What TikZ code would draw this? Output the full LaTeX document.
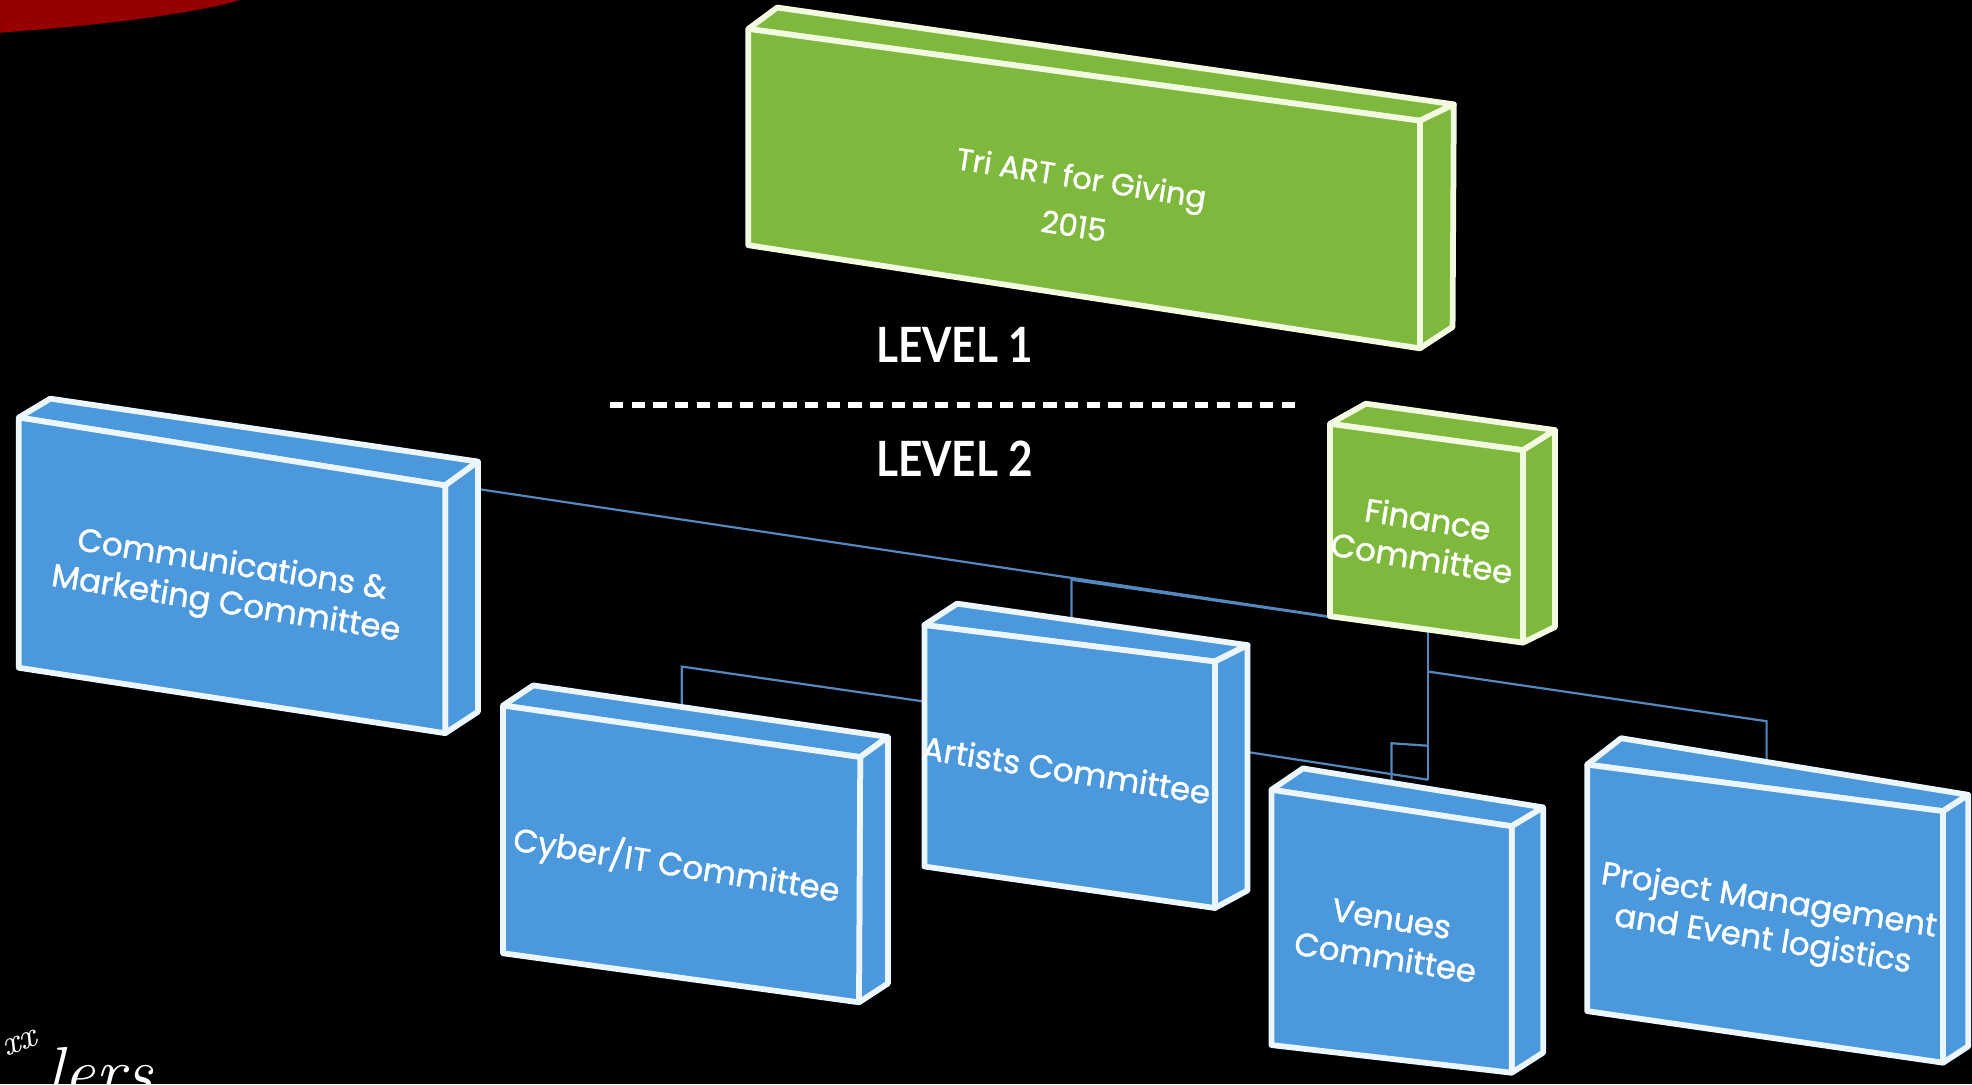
\documentclass[tikz,border=0pt]{standalone}
\usepackage{fontspec}
\setmainfont{Poppins}
\newfontfamily\boxfont{Poppins}[FakeBold=1.2]
\newfontfamily\lvlfont{Lato}
\newfontfamily\sigfont{Latin Modern Roman}
\definecolor{boxblue}{RGB}{76,152,220}
\definecolor{boxgreen}{RGB}{126,184,60}
\definecolor{edgeblue}{RGB}{236,246,255}
\definecolor{edgegreen}{RGB}{242,250,224}
\definecolor{linkblue}{RGB}{84,135,190}
\definecolor{swoosh}{RGB}{150,0,0}
\newcommand{\drawslab}[9]{%
  \coordinate (#1-ftl) at (#3); \coordinate (#1-ftr) at (#4);
  \coordinate (#1-fbr) at (#5); \coordinate (#1-fbl) at (#6);
  \coordinate (#1-btl) at (#7); \coordinate (#1-btr) at (#8);
  \coordinate (#1-bbr) at (#9);
  \path[#2] (#1-ftl) -- (#1-btl) -- (#1-btr) -- (#1-ftr) -- cycle;
  \path[#2] (#1-ftr) -- (#1-btr) -- (#1-bbr) -- (#1-fbr) -- cycle;
  \path[#2] (#1-ftl) -- (#1-ftr) -- (#1-fbr) -- (#1-fbl) -- cycle;
}
\begin{document}
\begin{tikzpicture}[x=0.01cm,y=-0.01cm,
  bluebox/.style={fill=boxblue,draw=edgeblue,line width=1.3pt,line join=round},
  greenbox/.style={fill=boxgreen,draw=edgegreen,line width=1.3pt,line join=round},
  link/.style={draw=linkblue,line width=0.5pt},
  boxtext/.style={text=white,font=\boxfont\fontsize{7.3}{8.9}\selectfont,align=center,rotate=-9,inner sep=0pt},
  toptext/.style={boxtext,font=\boxfont\fontsize{6.9}{11}\selectfont},
  leveltext/.style={text=white,font=\lvlfont\bfseries\fontsize{11}{13}\selectfont,inner sep=0pt},
  levelrule/.style={draw=white,line width=1.5pt,dash pattern=on 3pt off 1.9pt},
  sigtext/.style={text=white,inner sep=0pt}]
\fill[black] (0,0) rectangle (1568,862);
\useasboundingbox (0,0) rectangle (1568,862);
% red swoosh
\fill[swoosh] (0,0) -- (191,0) .. controls (150,12) and (70,21) .. (0,26) -- cycle;
% signature fragment
\begin{scope}
\clip (0,0) rectangle (1568,862);
\node[sigtext,font=\sigfont\itshape\fontsize{8}{9}\selectfont,rotate=20] (sigx) at (16,830) {xx};
\node[sigtext,font=\sigfont\itshape\fontsize{16}{17}\selectfont,anchor=base west] (sigw) at (36,872) {lers};
\end{scope}
% level labels
\node[leveltext] (lv1) at (759,274) {\scalebox{0.87}[1]{LEVEL 1}};
\node[leveltext] (lv2) at (759,365) {\scalebox{0.87}[1]{LEVEL 2}};
\coordinate (ruleL) at (485,322);
\coordinate (ruleR) at (1035,322);
\draw[levelrule] (ruleL) -- (ruleR);
% connector points
\coordinate (commOut) at (381,389);
\coordinate (trunkTop) at (1135.5,502);
\coordinate (trunkBot) at (1135.5,620);
\coordinate (artTopIn) at (852,494);
\coordinate (artTopBend) at (852,461);
\coordinate (pmFork) at (1135.5,534);
\coordinate (pmBend) at (1404.7,573.5);
\coordinate (pmIn) at (1404.7,606);
\coordinate (venFork) at (1135.5,593);
\coordinate (venBend) at (1106.5,591);
\coordinate (venIn) at (1106.5,623);
\coordinate (artRight) at (992,598);
\coordinate (cybIn) at (542,563);
\coordinate (cybBend) at (542,530);
\coordinate (artLeft) at (736,558);
% connectors
\draw[link] (commOut) -- (trunkTop);
\draw[link] (artTopIn) -- (artTopBend) -- (trunkTop);
\draw[link] (trunkTop) -- (trunkBot);
\draw[link] (pmFork) -- (pmBend) -- (pmIn);
\draw[link] (venFork) -- (venBend) -- (venIn);
\draw[link] (artRight) -- (trunkBot);
\draw[link] (cybIn) -- (cybBend) -- (artLeft);
% boxes
\drawslab{top}{greenbox}{595,23}{1129,96}{1129,277}{595,195}{618,6}{1156,83}{1155,260}
\drawslab{comm}{bluebox}{15,332}{354,386}{354,583}{15,531}{40,317}{380,367}{380,566}
\drawslab{cyb}{bluebox}{400,561}{684,602}{683,797}{400,758}{424,545}{706,586}{706,782}
\drawslab{art}{bluebox}{735,497}{966,526}{966,722}{735,689}{761,480}{992,513}{992,708}
\drawslab{ven}{bluebox}{1011,628}{1202,657}{1202,853}{1011,831}{1036,611}{1227,642}{1227,837}
\drawslab{pm}{bluebox}{1262,608}{1545,645}{1545,845}{1262,804}{1289,587}{1565,632}{1565,832}
\drawslab{fin}{greenbox}{1057.5,337}{1211,358}{1211,511}{1057.5,490}{1086,321}{1236.5,342}{1236.5,498.5}
% box texts
\node[toptext] (tTop) at (857,160) {Tri ART for Giving\\2015};
\node[boxtext] (tComm) at (182,466) {Communications \&\\Marketing Committee};
\node[boxtext] (tCyb) at (538,688) {Cyber/IT Committee};
\node[boxtext] (tArt) at (848,612) {Artists Committee};
\node[boxtext] (tVen) at (1104,746) {Venues\\Committee};
\node[boxtext] (tPm) at (1404,733) {Project Management\\and Event logistics};
\node[boxtext] (tFin) at (1133,428) {Finance\\Committee};
\end{tikzpicture}
\end{document}
